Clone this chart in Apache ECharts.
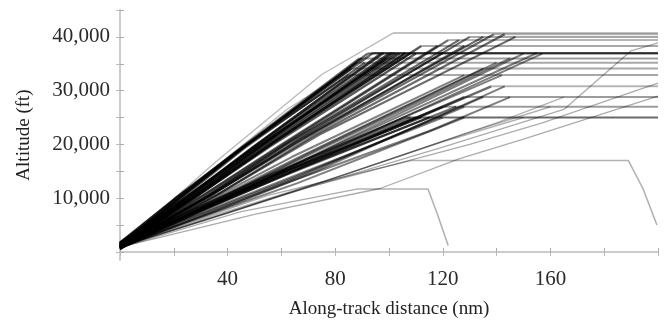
<!DOCTYPE html>
<html>
<head>
<meta charset="utf-8">
<script src="https://cdn.jsdelivr.net/npm/echarts@6/dist/echarts.min.js"></script>
<style>
html,body{margin:0;padding:0;background:#fff;}
#c{width:668px;height:324px;}
</style>
</head>
<body>
<div id="c"></div>
<script>
// Along-track distance (nm) vs altitude (ft); each track is a list of [nm, ft] points
const xTickLabels = [40, 80, 120, 160];
const yTickLabels = [10000, 20000, 30000, 40000];
const yTicks = [0, 5000, 10000, 15000, 20000, 25000, 30000, 35000, 40000, 45000];

// steepest climbs, level 33–37k ft by ~82–94 nm
const climbsSteep = [
  [[0,1500],[22,10400],[45,19200],[86,34100],[200,34100]],
  [[0,900],[21,9800],[44,18800],[88,35200],[200,35200]],
  [[0,1700],[20,9800],[43,18500],[85,32900],[200,32900]],
  [[0,600],[23,10300],[46,19600],[90,36000],[200,36000]],
  [[0,1200],[22,10000],[47,19800],[92,36900],[200,36900]],
  [[0,1400],[24,10700],[48,20200],[94,37000],[200,37000]],
  [[0,1000],[23,10000],[46,19200],[91,35200],[200,35200]],
  [[0,1800],[21,10100],[45,19400],[89,36000],[200,36000]]
];

// dense core, level near 37k ft around 96–112 nm
const climbsCore = [
  [[0,900],[25,10300],[50,19700],[98,37000],[200,37000]],
  [[0,1500],[26,10600],[51,19900],[100,36900],[200,36900]],
  [[0,1100],[26,10200],[52,19800],[102,37000],[200,37000]],
  [[0,600],[27,10200],[53,19800],[104,36900],[200,36900]],
  [[0,1300],[27,10200],[54,19800],[106,37000],[200,37000]],
  [[0,800],[28,10200],[55,19900],[108,37000],[200,37000]],
  [[0,1600],[28,10200],[56,19700],[110,36900],[200,36900]],
  [[0,1200],[25,10000],[50,19000],[99,36000],[200,36000]],
  [[0,700],[24,9700],[49,19300],[97,36900],[200,36900]],
  [[0,1000],[29,10500],[57,20300],[112,38300],[200,38300]],
  [[0,1400],[27,10100],[54,19300],[106,36900],[200,36900]],
  [[0,500],[26,9900],[52,19500],[101,37000],[200,37000]],
  [[0,1700],[25,10400],[51,19600],[103,36900],[200,36900]]
];

// climbs to the highest levels, 118–147 nm
const climbsHigh = [
  [[0,1000],[30,10300],[60,20000],[118,38300],[200,38300]],
  [[0,1400],[31,10500],[62,20400],[122,39400],[200,39400]],
  [[0,700],[32,10400],[64,20800],[126,39400],[200,39400]],
  [[0,1200],[33,10500],[66,20900],[130,40000],[200,40000]],
  [[0,1000],[34,10600],[68,21300],[135,40000],[200,40000]],
  [[0,1600],[35,10900],[70,21500],[139,40500],[200,40500]],
  [[0,800],[36,10600],[72,21600],[143,40500],[200,40500]],
  [[0,1300],[37,10900],[74,21800],[147,40000],[200,40000]],
  [[0,1000],[33,10300],[65,20200],[128,38300],[200,38300]],
  [[0,600],[31,9900],[61,19800],[120,37000],[200,37000]]
];

// mid levels reached further out, 128–157 nm
const climbsMid = [
  [[0,1000],[32,9300],[64,17700],[128,32900],[200,32900]],
  [[0,1500],[34,9500],[68,18000],[135,34100],[200,34100]],
  [[0,800],[35,9400],[70,18300],[140,35200],[200,35200]],
  [[0,1200],[36,9600],[72,18500],[145,36000],[200,36000]],
  [[0,1100],[38,9800],[76,19000],[150,36900],[200,36900]],
  [[0,600],[39,9800],[78,19300],[155,37000],[200,37000]],
  [[0,1400],[40,9900],[80,19200],[157,36900],[200,36900]],
  [[0,1000],[36,9300],[71,17600],[142,32900],[200,32900]]
];

// lower part of the fan, 25–31k ft
const climbsLow = [
  [[0,1000],[27,7800],[53,13800],[106,25000],[200,25000]],
  [[0,1500],[28,8000],[55,14000],[108,25000],[200,25000]],
  [[0,700],[28,7600],[56,13900],[110,25000],[200,25000]],
  [[0,1100],[29,7800],[57,14100],[112,25000],[200,25000]],
  [[0,1300],[29,7700],[58,13800],[115,25000],[200,25000]],
  [[0,900],[31,8200],[61,14800],[120,27000],[200,27000]],
  [[0,600],[33,8300],[65,15300],[128,28800],[200,28800]],
  [[0,1000],[35,8600],[69,16000],[138,30800],[200,30800]],
  [[0,1600],[32,8100],[63,14600],[125,27000],[200,27000]]
];

// bottom edge of the fan, shallow climbs to 25–31k ft
const climbsLower = [
  [[0,1000],[30,7200],[60,13200],[120,25000],[200,25000]],
  [[0,1400],[32,7400],[64,13700],[128,27000],[200,27000]],
  [[0,700],[34,7400],[68,14300],[135,28800],[200,28800]],
  [[0,1000],[36,7600],[72,14800],[143,30800],[200,30800]],
  [[0,800],[30,6800],[60,12500],[115,22500],[145,28800],[200,28800]],
  [[0,1200],[33,7000],[66,12800],[118,23000],[128,25000],[200,25000]]
];

// faint shallow climbs below the fan
const climbsFaint = [
  [[0,1000],[35,6800],[75,13000],[120,20500],[150,25000],[200,25000]],
  [[0,900],[38,7000],[80,13800],[130,22300],[160,27000],[200,27000]],
  [[0,1000],[40,7200],[85,14600],[140,24000],[165,28800],[200,28800]]
];

// light, steep climbs above the core
const climbsLight = [
  [[0,1000],[35,16500],[75,33000],[101.5,40700],[200,40700]],
  [[0,1000],[30,13500],[62,26500],[86,34100],[200,34100]]
];

// slow climbs (some with descents at the end)
const climbsSlow = [
  [[0,800],[45,7500],[88,11700],[114.5,11700],[118,7000],[122,1200]],
  [[0,1000],[55,10500],[108,17000],[189,17000],[194.4,11800],[199.6,5000]],
  [[0,900],[50,7000],[96.7,11800],[126,17300],[150,21000],[200,29000]],
  [[0,1000],[60,10500],[120,19500],[165,26500],[190,37400],[200,38900]],
  [[0,900],[70,12000],[130,20000],[157,24000],[200,31400]]
];

function seg(data, color, width, z) {
  return {
    type: 'line', data: data, symbol: 'none', silent: true, animation: false, z: z,
    lineStyle: { color: color, width: width }
  };
}

const series = [];
const levels = {}; // cruise altitude -> {start, count}
function addTrack(t, climbColor, climbWidth) {
  let maxAlt = -Infinity, topIdx = 0;
  t.forEach((p, i) => { if (p[1] > maxAlt) { maxAlt = p[1]; topIdx = i; } });
  series.push(seg(t.slice(0, topIdx + 1), climbColor, climbWidth, 3));
  const rest = t.slice(topIdx);
  const last = rest[rest.length - 1];
  if (rest.length === 2 && last[1] === maxAlt && last[0] === 200) {
    const L = levels[maxAlt] || (levels[maxAlt] = { start: rest[0][0], count: 0 });
    L.start = Math.min(L.start, rest[0][0]);
    L.count++;
  } else if (rest.length > 1) {
    series.push(seg(rest, 'rgba(0,0,0,0.3)', 1.6, 2));
  }
}
climbsSteep.forEach(t => addTrack(t, 'rgba(0,0,0,0.6)', 2.2));
climbsCore.forEach(t => addTrack(t, 'rgba(0,0,0,0.65)', 2.4));
climbsHigh.forEach(t => addTrack(t, 'rgba(0,0,0,0.58)', 2.2));
climbsMid.forEach(t => addTrack(t, 'rgba(0,0,0,0.5)', 2.0));
climbsLow.forEach(t => addTrack(t, 'rgba(0,0,0,0.58)', 2.3));
climbsLower.forEach(t => addTrack(t, 'rgba(0,0,0,0.5)', 2.0));
climbsFaint.forEach(t => addTrack(t, 'rgba(0,0,0,0.3)', 1.4));
climbsLight.forEach(t => addTrack(t, 'rgba(0,0,0,0.28)', 1.3));
climbsSlow.forEach(t => addTrack(t, 'rgba(0,0,0,0.33)', 1.3));
Object.keys(levels).forEach(k => {
  const L = levels[k];
  const a = Math.min(0.24 + 0.05 * (L.count - 1), 0.6);
  series.push(seg([[L.start, +k], [200, +k]], 'rgba(0,0,0,' + a.toFixed(2) + ')', 2, 1));
});

const axisGray = '#c9c9c9';
const labelFont = 'Liberation Serif';
const chart = echarts.init(document.getElementById('c'), null, { renderer: 'canvas' });
chart.setOption({
  backgroundColor: '#fff',
  animation: false,
  grid: { left: 120, right: 10, top: 10, bottom: 61 },
  xAxis: [{
    type: 'value', min: 0, max: 200, interval: 20, position: 'bottom',
    name: 'Along-track distance (nm)', nameLocation: 'middle', nameGap: 40,
    nameTextStyle: { fontFamily: labelFont, fontSize: 19, color: '#222' },
    axisLine: { show: true, lineStyle: { color: axisGray, width: 1.5 } },
    axisTick: { show: true, inside: true, length: 4, lineStyle: { color: '#aaa' } },
    axisLabel: { fontFamily: labelFont, fontSize: 21, color: '#2a2a2a', margin: 9,
      formatter: v => xTickLabels.indexOf(v) >= 0 ? String(v) : '' },
    splitLine: { show: false }
  }, {
    type: 'value', min: 0, max: 200, interval: 20, position: 'top',
    axisLine: { show: true, lineStyle: { color: axisGray, width: 1.5 } },
    axisTick: { show: true, inside: true, length: 4, lineStyle: { color: '#bbb' } },
    axisLabel: { show: false }, splitLine: { show: false }
  }],
  yAxis: [{
    type: 'value', min: -1500, max: 45000, position: 'left',
    name: 'Altitude (ft)', nameLocation: 'middle', nameGap: 86, nameRotate: 90,
    nameTextStyle: { fontFamily: labelFont, fontSize: 19, color: '#222' },
    axisLine: { show: true, lineStyle: { color: axisGray, width: 1.5 } },
    axisTick: { show: true, inside: true, length: 4, customValues: yTicks, lineStyle: { color: '#aaa' } },
    axisLabel: { fontFamily: labelFont, fontSize: 21, color: '#2a2a2a', margin: 10, customValues: yTickLabels,
      formatter: v => v.toLocaleString('en-US') },
    splitLine: { show: false }
  }, {
    type: 'value', min: -1500, max: 45000, position: 'right',
    axisLine: { show: true, lineStyle: { color: axisGray, width: 1.5 } },
    axisTick: { show: true, inside: true, length: 4, customValues: yTicks, lineStyle: { color: '#bbb' } },
    axisLabel: { show: false }, splitLine: { show: false }
  }],
  series: series
});
</script>
</body>
</html>
